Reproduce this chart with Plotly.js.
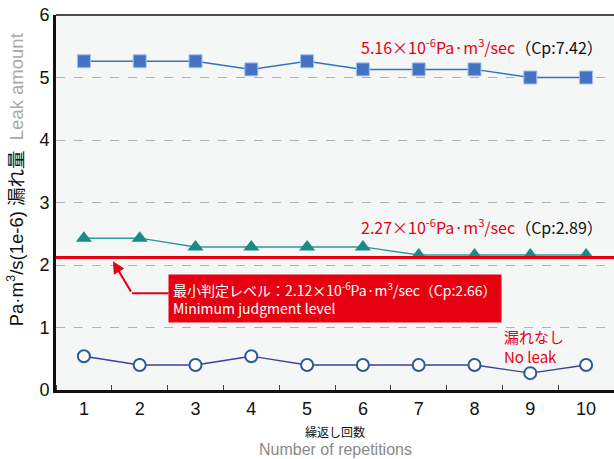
<!DOCTYPE html>
<html>
<head>
<meta charset="utf-8">
<script src="https://cdn.plot.ly/plotly-3.0.1.min.js"></script>
<style>html,body{margin:0;padding:0;background:#fff;}#chart{width:614px;height:459px;}</style>
</head>
<body>
<div id="chart"></div>
<script>
// Data
var repetitions = [1, 2, 3, 4, 5, 6, 7, 8, 9, 10];
var leak516 = [5.26, 5.26, 5.26, 5.13, 5.26, 5.13, 5.13, 5.13, 5.0, 5.0];
var leak227 = [2.43, 2.43, 2.29, 2.29, 2.29, 2.29, 2.16, 2.16, 2.16, 2.16];
var noLeak = [0.54, 0.40, 0.40, 0.54, 0.40, 0.40, 0.40, 0.40, 0.27, 0.40];
var minLevel = 2.12;
var xTickLabels = ['1', '2', '3', '4', '5', '6', '7', '8', '9', '10'];
var yTickVals = [0, 1, 2, 3, 4, 5, 6];

var RED = '#e60012';
var JP = '"Noto Sans CJK JP", "Noto Sans", sans-serif';
var NUM = '"Liberation Sans", Arial, sans-serif';
var MIX = '"Liberation Sans", "Noto Sans CJK JP", sans-serif';

var traces = [
  {
    x: repetitions, y: leak516, type: 'scatter', mode: 'lines+markers',
    line: {color: '#2f74c0', width: 1.5},
    marker: {symbol: 'square', size: 13, color: '#4472c4', line: {color: '#a9c1e6', width: 1}},
    hoverinfo: 'skip', showlegend: false
  },
  {
    x: repetitions, y: leak227, type: 'scatter', mode: 'lines+markers',
    line: {color: '#2a9a9a', width: 1.5},
    marker: {symbol: 'triangle-up', size: 14, color: '#1b8a8a', line: {color: '#1b8a8a', width: 0}},
    hoverinfo: 'skip', showlegend: false
  },
  {
    x: repetitions, y: noLeak, type: 'scatter', mode: 'lines+markers',
    line: {color: '#3c3f9c', width: 1.3},
    marker: {symbol: 'circle', size: 12, color: '#ffffff', line: {color: '#2b5a9a', width: 2}},
    hoverinfo: 'skip', showlegend: false
  }
];

var layout = {
  width: 614, height: 459,
  margin: {l: 56, r: 0, t: 15, b: 69},
  paper_bgcolor: '#ffffff',
  plot_bgcolor: '#f5f7f7',
  showlegend: false,
  xaxis: {
    range: [0.5, 10.5],
    tickvals: repetitions, ticktext: xTickLabels,
    ticks: '', showgrid: false, zeroline: false,
    showline: true, linecolor: '#111', linewidth: 3,
    tickfont: {family: NUM, size: 18, color: '#111'},
    minor: {ticks: 'inside', tick0: 1.5, dtick: 1, ticklen: 5, tickwidth: 1, tickcolor: '#444', showgrid: false}
  },
  yaxis: {
    range: [0, 6],
    tickvals: yTickVals,
    ticks: '', showgrid: true, gridcolor: '#b3b3b3', griddash: 'dash', gridwidth: 1,
    zeroline: false,
    showline: true, linecolor: '#111', linewidth: 3,
    tickfont: {family: NUM, size: 18, color: '#111'}
  },
  shapes: [
    {type: 'line', xref: 'paper', yref: 'paper', x0: 0, x1: 1, y0: 1, y1: 1, line: {color: '#111', width: 1.5}},
    {type: 'line', xref: 'paper', yref: 'y', x0: 0, x1: 1, y0: minLevel, y1: minLevel, line: {color: RED, width: 3}},
    {type: 'line', xref: 'x', yref: 'y', x0: 1.86, x1: 2.52, y0: 1.55, y1: 1.55, line: {color: RED, width: 2}}
  ],
  annotations: [
    {xref: 'x', yref: 'y', x: 10.34, y: 5.49, xanchor: 'right', yanchor: 'middle', showarrow: false,
     text: "<span style='color:" + RED + "'>5.16×10<sup>-6</sup>Pa·m<sup>3</sup>/sec</span>（Cp:7.42）",
     font: {family: JP, size: 16, color: '#111'}},
    {xref: 'x', yref: 'y', x: 10.34, y: 2.62, xanchor: 'right', yanchor: 'middle', showarrow: false,
     text: "<span style='color:" + RED + "'>2.27×10<sup>-6</sup>Pa·m<sup>3</sup>/sec</span>（Cp:2.89）",
     font: {family: JP, size: 16, color: '#111'}},
    {xref: 'x', yref: 'y', x: 8.49, y: 0.70, xanchor: 'left', yanchor: 'middle', showarrow: false, align: 'left',
     text: "漏れなし<br>No leak",
     font: {family: JP, size: 15, color: RED}},
    {xref: 'x', yref: 'y', x: 2.5, y: 1.46, xanchor: 'left', yanchor: 'middle', showarrow: false, align: 'left',
     text: "最小判定レベル：2.12×10<sup>-6</sup>Pa·m<sup>3</sup>/sec（Cp:2.66）<br>Minimum judgment level",
     bgcolor: RED, borderpad: 4,
     font: {family: JP, size: 14, color: '#ffffff'}},
    {xref: 'x', yref: 'y', axref: 'x', ayref: 'y', x: 1.52, y: 2.06, ax: 1.86, ay: 1.55,
     text: '', showarrow: true, arrowhead: 2, arrowsize: 1.2, arrowwidth: 2, arrowcolor: RED, standoff: 0, startstandoff: 0},
    {xref: 'paper', yref: 'paper', x: -0.073, y: 0.56, xanchor: 'center', yanchor: 'middle', textangle: -90, showarrow: false,
     text: "Pa·m<sup>3</sup>/s(1e-6) 漏れ量  <span style='color:#a8a8a8'>Leak amount</span>",
     font: {family: MIX, size: 18.5, color: '#111'}},
    {xref: 'paper', yref: 'paper', x: 0.5, y: -0.11, xanchor: 'center', yanchor: 'middle', showarrow: false,
     text: "繰返し回数", font: {family: JP, size: 12, color: '#111'}},
    {xref: 'paper', yref: 'paper', x: 0.5, y: -0.158, xanchor: 'center', yanchor: 'middle', showarrow: false,
     text: "Number of repetitions", font: {family: NUM, size: 16, color: '#8a8a8a'}}
  ]
};

Plotly.newPlot('chart', traces, layout, {staticPlot: true, displayModeBar: false});
</script>
</body>
</html>
